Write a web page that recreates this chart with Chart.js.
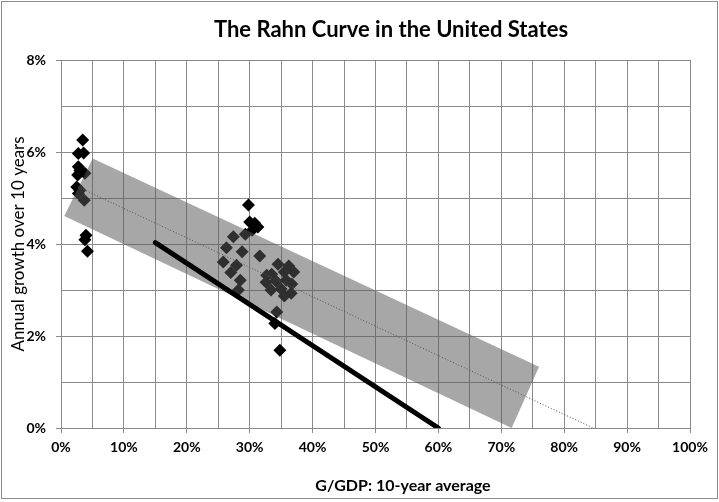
<!DOCTYPE html>
<html lang="en">
<head>
    <meta charset="UTF-8">
    <title>The Rahn Curve in the United States</title>
    <style>
        html, body { margin: 0; padding: 0; background: #fff; }
        canvas { display: block; }
    </style>
</head>
<body>
    <canvas id="rahn" width="719" height="502"></canvas>

    <script src="https://cdn.jsdelivr.net/npm/chart.js"></script>

<script>
  // G/GDP share (%) and annual growth over 10 years (%)
  const govShare = [3.45, 2.75, 3.6, 2.75, 2.65, 3.8, 3.0, 2.5, 2.75, 3.7, 3.0, 3.97, 3.8, 4.2,
    29.8, 30.0, 30.8, 31.3, 29.3, 30.4, 27.4, 26.3, 28.8, 31.6, 25.8, 27.9, 27.0, 28.5, 28.2,
    34.5, 36.2, 35.5, 33.5, 37.0, 32.6, 34.2, 35.8, 36.7, 35.0, 36.6, 33.4, 35.5, 32.7,
    34.3, 34.0, 34.8]
  const growth = [6.26, 5.97, 5.98, 5.68, 5.50, 5.54, 5.6, 5.24, 5.10, 4.95, 5.17, 4.19, 4.09, 3.84,
    4.85, 4.48, 4.45, 4.37, 4.21, 4.30, 4.16, 3.92, 3.83, 3.74, 3.61, 3.54, 3.38, 3.21, 3.0,
    3.56, 3.52, 3.39, 3.34, 3.39, 3.17, 3.19, 3.21, 3.13, 3.02, 2.93, 3.0, 2.87, 3.32,
    2.52, 2.27, 1.69]

  // shaded band (corners)
  const bandX = [0.52, 5.04, 76.0, 71.65]
  const bandY = [4.61, 5.86, 1.33, 0.0]

  // dotted trend line
  const trendX = [2.7, 84.6]
  const trendY = [5.24, 0]

  // thick black line
  const lineX = [15, 60]
  const lineY = [4.03, 0]

  const xTickLabels = ['0%', '10%', '20%', '30%', '40%', '50%', '60%', '70%', '80%', '90%', '100%']
  const yTickLabels = ['0%', '2%', '4%', '6%', '8%']

  const pts = (xs, ys) => xs.map((x, i) => ({ x: x, y: ys[i] }))

  const gridGray = '#8a8a8a'

  // background, outer frame, title and x axis title (placed like the original)
  const frame = {
    id: 'frame',
    beforeDraw(chart) {
      const c = chart.ctx
      c.save()
      c.fillStyle = '#fff'
      c.fillRect(0, 0, chart.width, chart.height)
      c.restore()
    },
    afterDraw(chart) {
      const c = chart.ctx
      c.save()
      c.strokeStyle = '#8c8c8c'
      c.lineWidth = 1
      c.strokeRect(1.5, 1.5, 716, 497)
      c.fillStyle = '#000'
      c.textAlign = 'center'
      c.textBaseline = 'middle'
      c.font = 'bold 22px Lato'
      c.fillText('The Rahn Curve in the United States', 391, 30)
      c.font = 'bold 16px Lato'
      c.fillText('G/GDP: 10-year average', 403, 486)
      c.restore()
    }
  }

  Chart.defaults.font.family = 'Lato'

  new Chart(document.getElementById('rahn'), {
    type: 'line',
    data: {
      datasets: [
        {
          data: pts(lineX, lineY),
          borderColor: '#000',
          borderWidth: 5,
          borderCapStyle: 'round',
          pointRadius: 0,
          fill: false,
          order: 1
        },
        {
          data: pts(trendX, trendY),
          borderColor: '#555',
          borderWidth: 1,
          borderDash: [1, 2],
          pointRadius: 0,
          fill: false,
          order: 2
        },
        {
          data: pts(bandX, bandY),
          borderWidth: 0,
          borderColor: 'rgba(0,0,0,0)',
          backgroundColor: 'rgba(88,88,88,0.53)',
          pointRadius: 0,
          fill: 'shape',
          order: 3
        },
        {
          data: pts(govShare, growth),
          showLine: false,
          pointStyle: 'rectRot',
          pointRadius: 6.5,
          pointBackgroundColor: '#000',
          pointBorderColor: '#000',
          pointBorderWidth: 0,
          order: 4
        }
      ]
    },
    options: {
      responsive: false,
      animation: false,
      devicePixelRatio: 1,
      layout: { padding: { left: 0, right: 29, top: 60, bottom: 0 } },
      plugins: {
        legend: { display: false },
        tooltip: { enabled: false },
        title: { display: false }
      },
      scales: {
        x: {
          type: 'linear',
          min: 0,
          max: 100,
          afterFit: s => { s.height = 74 },
          ticks: {
            stepSize: 5,
            autoSkip: false,
            maxRotation: 0,
            padding: 6,
            color: '#000',
            font: { size: 14, weight: 'bold' },
            callback: v => (v % 10 === 0 ? xTickLabels[v / 10] : '')
          },
          grid: {
            color: gridGray,
            tickLength: 5,
            tickColor: ctx => (ctx.tick && ctx.tick.value % 10 === 0 ? gridGray : 'rgba(0,0,0,0)')
          },
          border: { color: gridGray }
        },
        y: {
          min: 0,
          max: 8,
          afterFit: s => { s.width = 61 },
          ticks: {
            stepSize: 1,
            autoSkip: false,
            padding: 10,
            color: '#000',
            font: { size: 14, weight: 'bold' },
            callback: v => (v % 2 === 0 ? yTickLabels[v / 2] : '')
          },
          grid: {
            color: gridGray,
            tickLength: 5,
            tickColor: ctx => (ctx.tick && ctx.tick.value % 2 === 0 ? gridGray : 'rgba(0,0,0,0)')
          },
          border: { color: gridGray },
          title: {
            display: true,
            text: 'Annual growth over 10 years',
            color: '#000',
            font: { size: 17 },
            padding: { top: 8, bottom: 0 }
          }
        }
      }
    },
    plugins: [frame]
  })
</script>

</body>
</html>
